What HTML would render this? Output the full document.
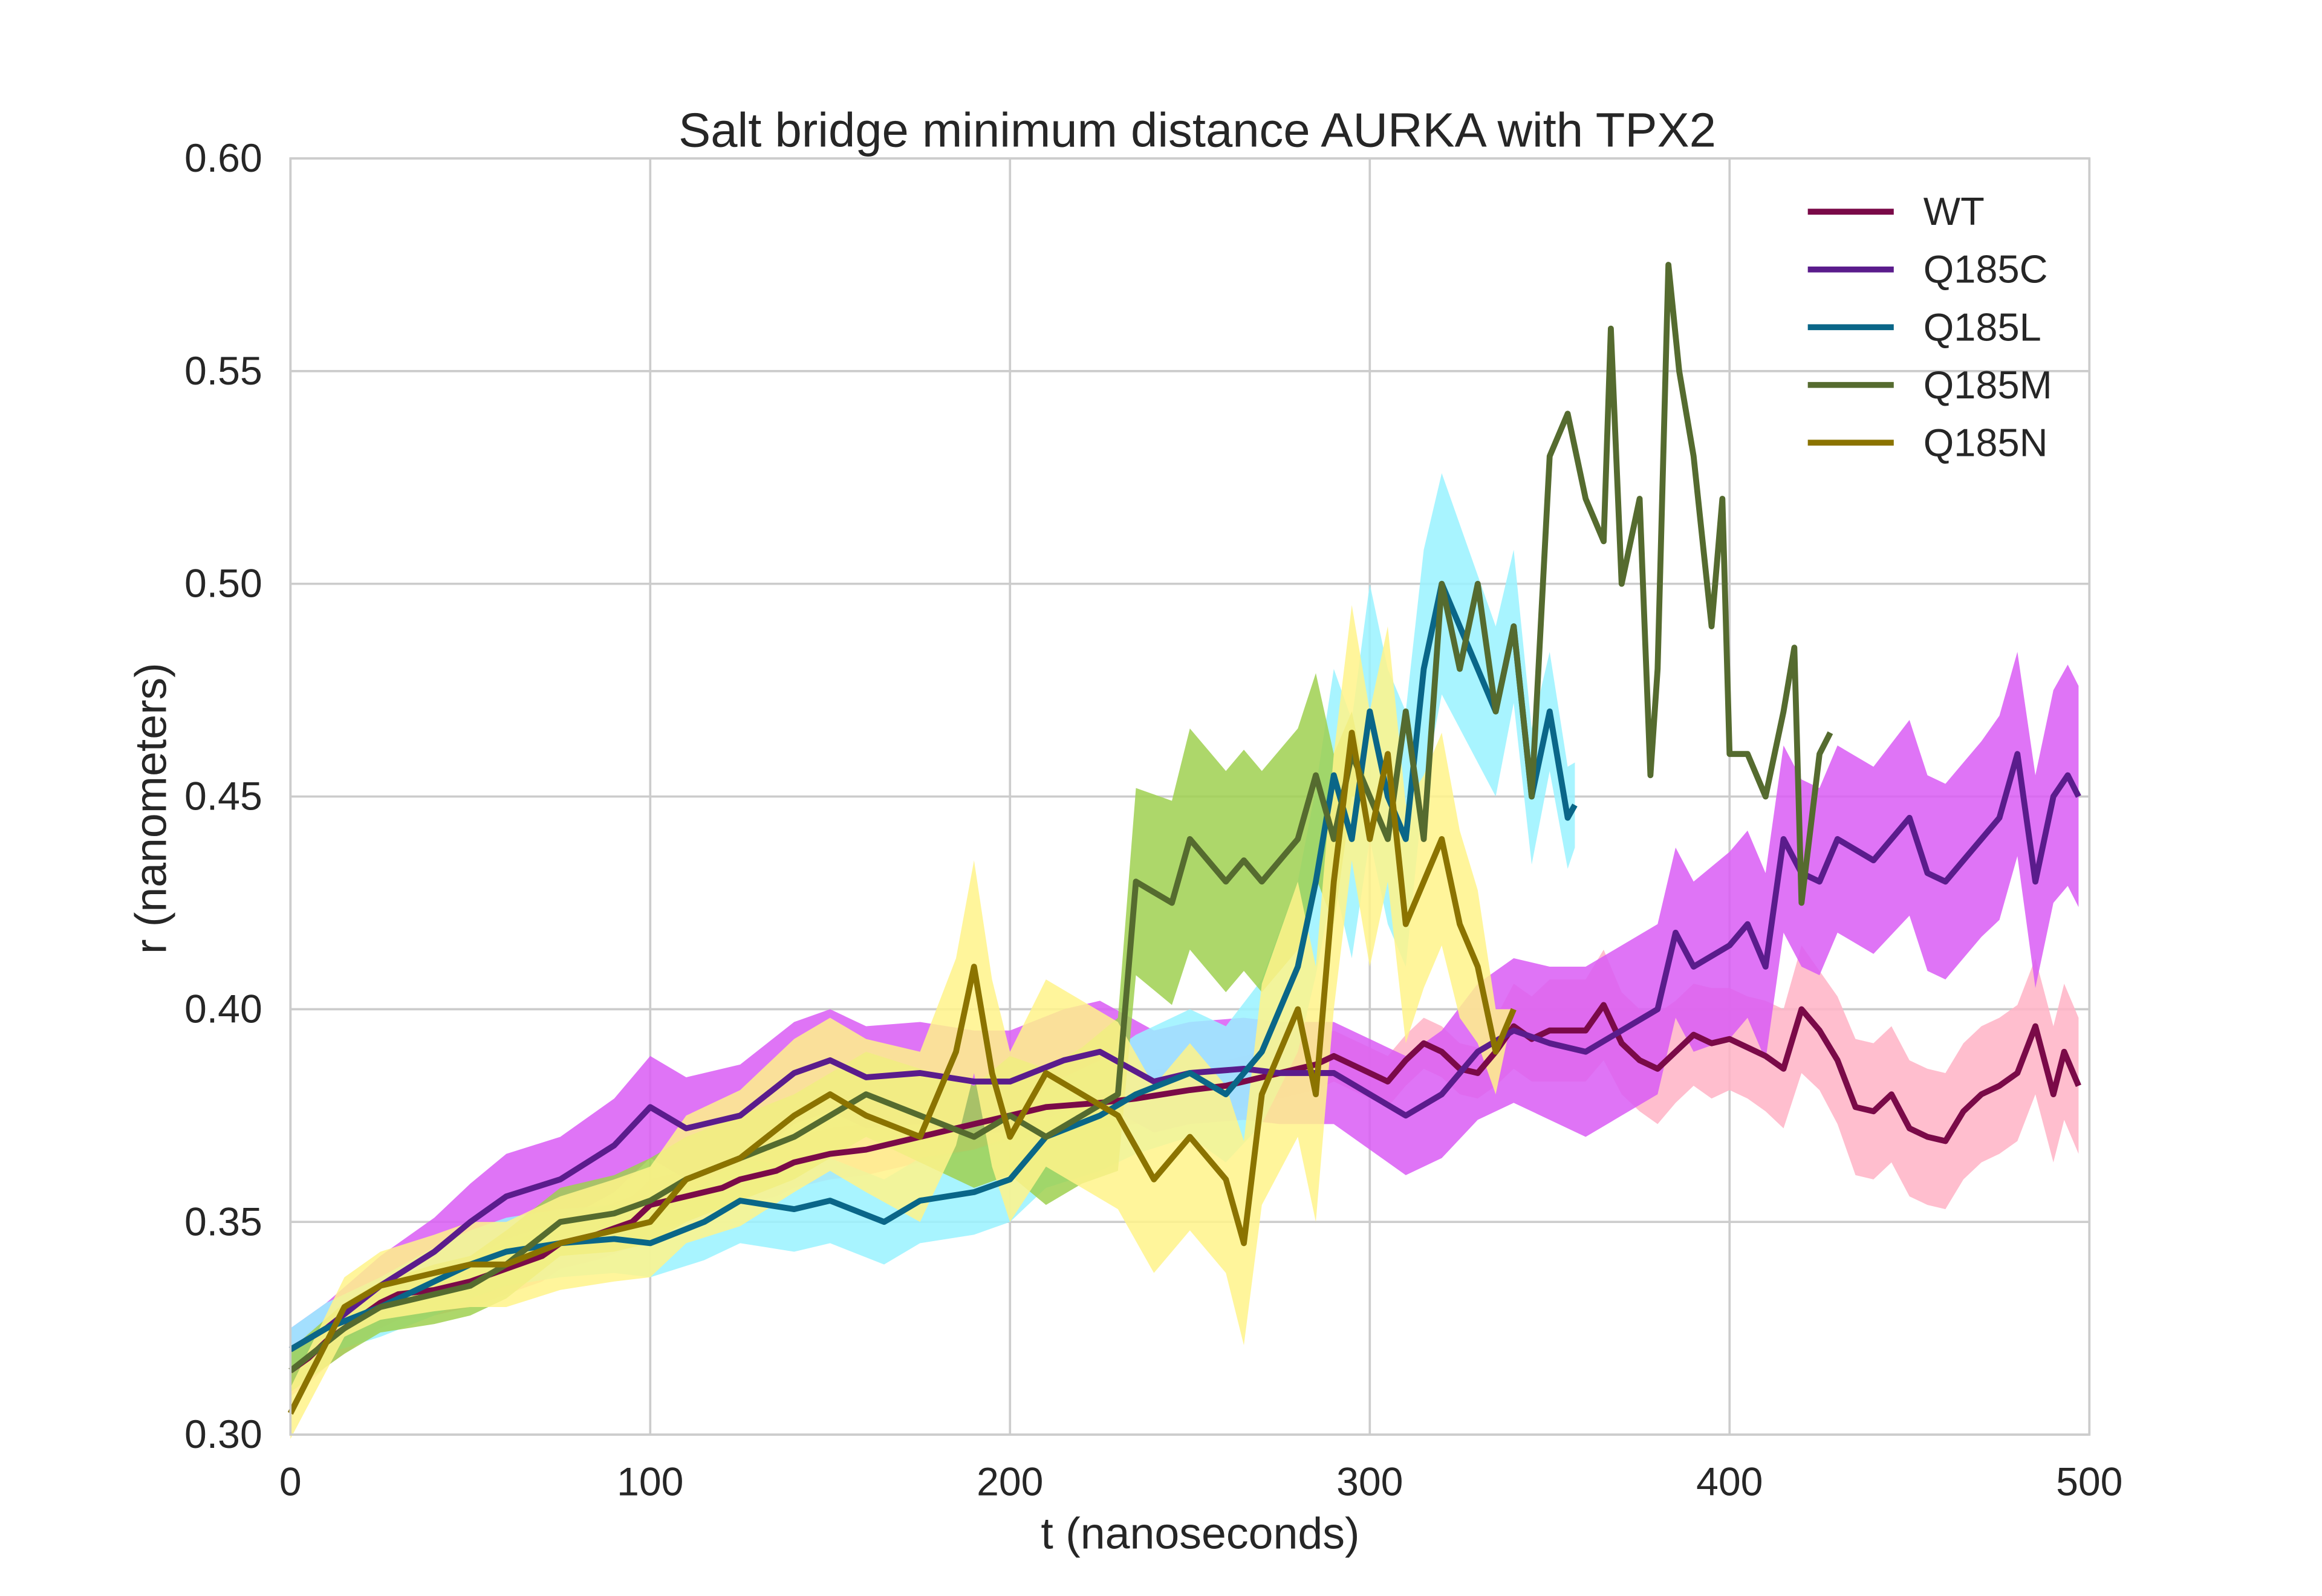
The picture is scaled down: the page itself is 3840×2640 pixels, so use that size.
<!DOCTYPE html>
<html><head><meta charset="utf-8"><style>
html,body{margin:0;padding:0;background:#fff}
svg{display:block}
text{font-family:"Liberation Sans",sans-serif;fill:#262626}
</style></head><body>
<svg id="chart" width="3840" height="2640" viewBox="0 0 1567 1078" preserveAspectRatio="none" xmlns="http://www.w3.org/2000/svg">
<rect x="0" y="0" width="1567" height="1078" fill="#fff"/>
<g id="grid"></g>
<g id="bands"></g>
<g id="lines"></g>
<rect x="196" y="107" width="1214" height="862" fill="none" stroke="#cccccc" stroke-width="1.5"/>
<g id="ticks"></g>
<text x="808" y="99" font-size="32.5" text-anchor="middle">Salt bridge minimum distance AURKA with TPX2</text>
<text x="810" y="1046" font-size="30" text-anchor="middle">t (nanoseconds)</text>
<text x="0" y="0" font-size="30" text-anchor="middle" transform="translate(112,546) rotate(-90)">r (nanometers)</text>
<g id="legend"></g>
</svg>
<script>
const xTicks=[0,100,200,300,400,500];
const yTicks=[0.30,0.35,0.40,0.45,0.50,0.55,0.60];
const seriesNames=["WT","Q185C","Q185L","Q185M","Q185N"];
const wtT=[0,5,10,15,20,25,30,40,50,60,70,75,85,95,100,110,120,125,135,140,150,160,175,185,200,210,225,235,250,260,275,285,290,295,300,305,310,315,320,325,330,335,340,345,350,360,365,370,375,380,385,390,395,400,405,410,415,420,425,430,435,440,445,450,455,460,465,470,475,480,485,490,493,497];
const wtV=[0.315,0.318,0.322,0.325,0.328,0.331,0.333,0.334,0.336,0.339,0.342,0.345,0.347,0.350,0.354,0.356,0.358,0.360,0.362,0.364,0.366,0.367,0.370,0.372,0.375,0.377,0.378,0.379,0.381,0.382,0.385,0.387,0.389,0.387,0.385,0.383,0.388,0.392,0.390,0.386,0.385,0.390,0.396,0.393,0.395,0.395,0.401,0.392,0.388,0.386,0.390,0.394,0.392,0.393,0.391,0.389,0.386,0.400,0.395,0.388,0.377,0.376,0.380,0.372,0.370,0.369,0.376,0.380,0.382,0.385,0.396,0.380,0.390,0.382];
const wtE=[0.006,0.006,0.006,0.006,0.006,0.006,0.006,0.006,0.006,0.006,0.006,0.006,0.006,0.006,0.006,0.006,0.006,0.006,0.006,0.006,0.006,0.006,0.006,0.006,0.006,0.006,0.006,0.006,0.006,0.006,0.006,0.006,0.006,0.006,0.006,0.006,0.006,0.006,0.006,0.006,0.006,0.008,0.010,0.010,0.012,0.012,0.013,0.012,0.012,0.013,0.012,0.012,0.013,0.012,0.012,0.013,0.014,0.015,0.014,0.015,0.016,0.016,0.016,0.016,0.016,0.016,0.016,0.016,0.016,0.016,0.016,0.016,0.016,0.016];
const cT=[0,10,25,40,50,60,75,90,100,110,125,140,150,160,175,190,200,215,225,240,250,265,275,290,300,310,320,330,340,350,360,370,380,385,390,400,405,410,415,420,425,430,440,450,455,460,470,475,480,485,490,494,497];
const cV=[0.320,0.325,0.335,0.343,0.350,0.356,0.360,0.368,0.377,0.372,0.375,0.385,0.388,0.384,0.385,0.383,0.383,0.388,0.390,0.383,0.385,0.386,0.385,0.385,0.380,0.375,0.380,0.390,0.395,0.392,0.390,0.395,0.400,0.418,0.410,0.415,0.420,0.410,0.440,0.432,0.430,0.440,0.435,0.445,0.432,0.430,0.440,0.445,0.460,0.430,0.450,0.455,0.450];
const cE=[0.005,0.006,0.007,0.008,0.009,0.010,0.010,0.011,0.012,0.012,0.012,0.012,0.012,0.012,0.012,0.012,0.012,0.012,0.012,0.012,0.012,0.012,0.012,0.012,0.013,0.014,0.015,0.016,0.017,0.018,0.020,0.020,0.020,0.020,0.020,0.022,0.022,0.022,0.022,0.022,0.022,0.022,0.022,0.023,0.023,0.023,0.023,0.024,0.024,0.025,0.025,0.026,0.026];
const lT=[0,10,25,40,50,60,75,90,100,115,125,140,150,165,175,190,200,210,225,235,250,260,270,280,285,290,295,300,305,310,315,320,325,330,335,340,345,350,355,357];
const lV=[0.320,0.325,0.330,0.336,0.340,0.343,0.345,0.346,0.345,0.350,0.355,0.353,0.355,0.350,0.355,0.357,0.360,0.370,0.375,0.380,0.385,0.380,0.390,0.410,0.430,0.455,0.440,0.470,0.450,0.440,0.480,0.500,0.490,0.480,0.470,0.490,0.450,0.470,0.445,0.448];
const lE=[0.005,0.006,0.007,0.008,0.008,0.008,0.008,0.008,0.008,0.009,0.010,0.010,0.010,0.010,0.010,0.010,0.010,0.012,0.013,0.014,0.015,0.016,0.017,0.020,0.022,0.025,0.028,0.030,0.030,0.030,0.028,0.026,0.024,0.022,0.020,0.018,0.016,0.014,0.012,0.010];
const mT=[0,15,25,40,50,60,75,90,100,110,125,140,150,160,175,190,200,210,220,230,235,245,250,260,265,270,280,285,290,295,300,305,310,315,320,325,330,335,340,345,350,355,360,365,367,370,375,378,380,383,386,390,395,398,400,405,410,415,418,420,425,428];
const mV=[0.315,0.325,0.330,0.333,0.335,0.340,0.350,0.352,0.355,0.360,0.365,0.370,0.375,0.380,0.375,0.370,0.375,0.370,0.375,0.380,0.430,0.425,0.440,0.430,0.435,0.430,0.440,0.455,0.440,0.460,0.450,0.440,0.470,0.440,0.500,0.480,0.500,0.470,0.490,0.450,0.530,0.540,0.520,0.510,0.560,0.500,0.520,0.455,0.480,0.575,0.550,0.530,0.490,0.520,0.460,0.460,0.450,0.470,0.485,0.425,0.460,0.465];
const mE=[0.005,0.006,0.006,0.007,0.007,0.008,0.008,0.009,0.010,0.010,0.010,0.010,0.010,0.010,0.011,0.012,0.014,0.016,0.016,0.018,0.022,0.024,0.026,0.026,0.026,0.026,0.026,0.024,0.020,0.010,0,0,0,0,0,0,0,0,0,0,0,0,0,0,0,0,0,0,0,0,0,0,0,0,0,0,0,0,0,0,0,0];
const nT=[0,15,25,40,50,60,75,90,100,110,125,140,150,160,175,185,190,195,200,210,220,230,240,250,260,265,270,275,280,285,290,295,300,305,310,315,320,325,330,335,340];
const nV=[0.305,0.330,0.335,0.338,0.340,0.340,0.345,0.348,0.350,0.360,0.365,0.375,0.380,0.375,0.370,0.390,0.410,0.385,0.370,0.385,0.380,0.375,0.360,0.370,0.360,0.345,0.380,0.390,0.400,0.380,0.430,0.465,0.440,0.460,0.420,0.430,0.440,0.420,0.410,0.390,0.400];
const nE=[0.006,0.007,0.008,0.009,0.010,0.010,0.011,0.012,0.013,0.015,0.016,0.018,0.018,0.018,0.020,0.022,0.025,0.022,0.020,0.022,0.022,0.022,0.022,0.022,0.022,0.024,0.026,0.028,0.030,0.030,0.030,0.030,0.030,0.030,0.028,0.025,0.025,0.022,0.018,0.010,0];
const NS="http://www.w3.org/2000/svg";
function X(t){return 196+t/500*1214;}
function Y(v){return 969-(v-0.30)/0.30*862;}
const grid=document.getElementById('grid'),ticks=document.getElementById('ticks');
xTicks.forEach(t=>{
 const l=document.createElementNS(NS,'line');
 l.setAttribute('x1',X(t));l.setAttribute('x2',X(t));l.setAttribute('y1',107);l.setAttribute('y2',969);
 l.setAttribute('stroke','#cccccc');l.setAttribute('stroke-width','1.5');
 
 
 grid.appendChild(l);
 const tx=document.createElementNS(NS,'text');
 tx.setAttribute('x',X(t));tx.setAttribute('y',1010);tx.setAttribute('font-size','27');tx.setAttribute('text-anchor','middle');
 tx.textContent=t;
 
 
 ticks.appendChild(tx);
});
yTicks.forEach(v=>{
 const l=document.createElementNS(NS,'line');
 l.setAttribute('x1',196);l.setAttribute('x2',1410);l.setAttribute('y1',Y(v));l.setAttribute('y2',Y(v));
 l.setAttribute('stroke','#cccccc');l.setAttribute('stroke-width','1.5');
 
 
 grid.appendChild(l);
 const tx=document.createElementNS(NS,'text');
 tx.setAttribute('x',177);tx.setAttribute('y',Y(v)+9);tx.setAttribute('font-size','27');tx.setAttribute('text-anchor','end');
 tx.textContent=v.toFixed(2);
 
 
 ticks.appendChild(tx);
});
const series=[
 {n:"WT",t:wtT,v:wtV,e:wtE,c:"#7a0a48",b:"#ffb3c6"},
 {n:"Q185C",t:cT,v:cV,e:cE,c:"#5a1c8c",b:"#d95cf5"},
 {n:"Q185L",t:lT,v:lV,e:lE,c:"#0a6688",b:"#99f2ff"},
 {n:"Q185M",t:mT,v:mV,e:mE,c:"#556b2f",b:"#9fd050"},
 {n:"Q185N",t:nT,v:nV,e:nE,c:"#8b7300",b:"#fff38a"}
];
const bands=document.getElementById('bands'),lines=document.getElementById('lines'),leg=document.getElementById('legend');
series.forEach((s,k)=>{
 let up=s.t.map((t,i)=>X(t)+','+Y(s.v[i]+s.e[i]));
 let dn=s.t.map((t,i)=>X(t)+','+Y(s.v[i]-s.e[i])).reverse();
 const p=document.createElementNS(NS,'polygon');
 p.setAttribute('points',up.concat(dn).join(' '));
 p.setAttribute('fill',s.b);p.setAttribute('fill-opacity','0.85');
 
 
 bands.appendChild(p);
 const pl=document.createElementNS(NS,'polyline');
 pl.setAttribute('points',s.t.map((t,i)=>X(t)+','+Y(s.v[i])).join(' '));
 pl.setAttribute('fill','none');pl.setAttribute('stroke',s.c);pl.setAttribute('stroke-width','4');pl.setAttribute('stroke-linejoin','round');
 
 
 lines.appendChild(pl);
 const y=143+k*39;
 const g=document.createElementNS(NS,'g');
 
 
 const ll=document.createElementNS(NS,'line');
 ll.setAttribute('x1',1220);ll.setAttribute('x2',1278);ll.setAttribute('y1',y);ll.setAttribute('y2',y);
 ll.setAttribute('stroke',s.c);ll.setAttribute('stroke-width','4');
 g.appendChild(ll);
 const tx=document.createElementNS(NS,'text');
 tx.setAttribute('x',1298);tx.setAttribute('y',y+9);tx.setAttribute('font-size','26.5');
 tx.textContent=s.n;
 g.appendChild(tx);
 leg.appendChild(g);
});
</script>
</body></html>
